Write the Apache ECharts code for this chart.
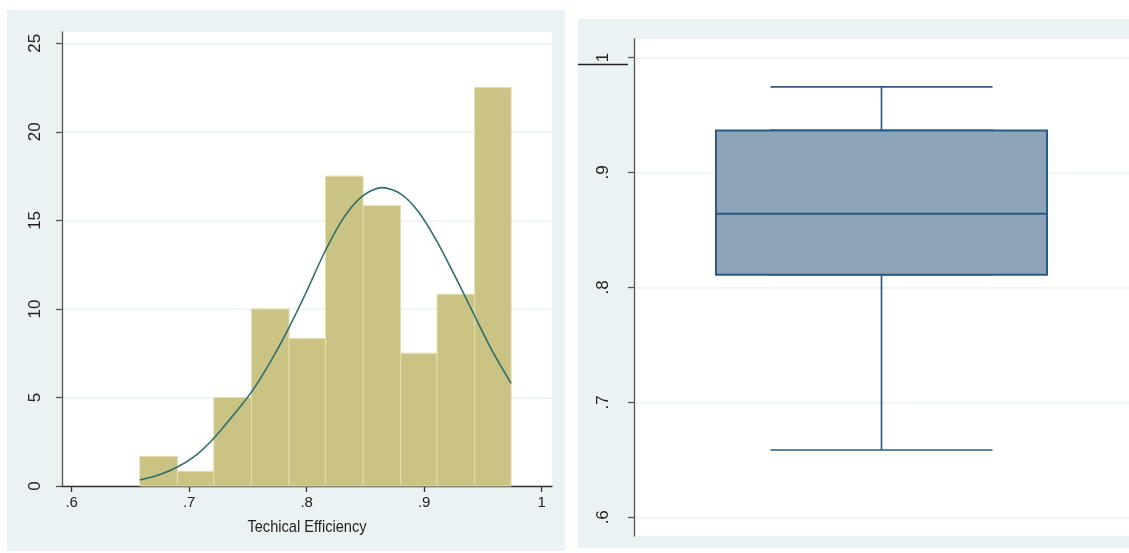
<!DOCTYPE html>
<html>
<head>
<meta charset="utf-8">
<script src="https://cdn.jsdelivr.net/npm/echarts@6/dist/echarts.min.js"></script>
<style>
html,body{margin:0;padding:0;background:#fff;}
#c{width:1129px;height:553px;}
</style>
</head>
<body>
<div id="c"></div>
<script>
// ---- data ----
const histBinEdges = [0.658, 0.690, 0.721, 0.753, 0.785, 0.816, 0.848, 0.880, 0.911, 0.943, 0.974];
const histPercent = [1.67, 0.83, 5.0, 10.0, 8.33, 17.5, 15.83, 7.5, 10.83, 22.5];
const curveX = [0.658, 0.674, 0.690, 0.706, 0.721, 0.737, 0.753, 0.769, 0.785, 0.800, 0.816, 0.832, 0.848, 0.864, 0.880, 0.895, 0.911, 0.927, 0.943, 0.959, 0.974];
const curveY = [0.34, 0.62, 1.07, 1.75, 2.70, 3.95, 5.30, 7.00, 8.95, 11.0, 13.3, 15.2, 16.4, 16.85, 16.5, 15.5, 13.8, 11.75, 9.6, 7.5, 5.8];
const histXTicks = [0.6, 0.7, 0.8, 0.9, 1];
const histYTicks = [0, 5, 10, 15, 20, 25];
const histXTitle = 'Techical Efficiency';
const boxCategory = ['TE'];
const boxStats = [0.6585, 0.811, 0.864, 0.9366, 0.9745]; // min, q1, median, q3, max
const boxYTicks = [0.6, 0.7, 0.8, 0.9, 1];

const fmt = v => {
  if (v === 0) return '0';
  return String(+(+v).toFixed(3)).replace(/^0\./, '.');
};

const binData = histPercent.map((h, i) => [histBinEdges[i], histBinEdges[i + 1], h]);
const curveData = curveX.map((x, i) => [x, curveY[i]]);

const axisGray = '#555';
const gridColor = '#EAF2F3';
const bgColor = '#EAF2F3';
const font = 'Liberation Sans, Arial, sans-serif';

const chart = echarts.init(document.getElementById('c'), null, {renderer: 'canvas'});
chart.setOption({
  animation: false,
  backgroundColor: '#fff',
  graphic: [
    {type: 'rect', z: -100, silent: true, shape: {x: 7, y: 10, width: 558, height: 541}, style: {fill: bgColor}},
    {type: 'rect', z: -100, silent: true, shape: {x: 578, y: 19, width: 551, height: 529}, style: {fill: bgColor}},
    {type: 'line', z: 100, silent: true, shape: {x1: 578, y1: 64.5, x2: 628, y2: 64.5}, style: {stroke: '#222', lineWidth: 1.3}},
    {type: 'text', z: 100, silent: true, x: 307, y: 527.5, scaleX: 0.86, scaleY: 1,
     style: {text: histXTitle, font: '17px Liberation Sans, Arial, sans-serif', fill: '#222', align: 'center', verticalAlign: 'middle'}}
  ],
  grid: [
    {left: 62, top: 32, width: 490, height: 454, show: true, backgroundColor: '#fff', borderWidth: 0, containLabel: false},
    {left: 634, top: 39, width: 495, height: 497, show: true, backgroundColor: '#fff', borderWidth: 0, containLabel: false}
  ],
  xAxis: [
    {
      type: 'value', gridIndex: 0, min: 0.5918, max: 1.0088,
      axisLine: {show: true, onZero: false, lineStyle: {color: '#333', width: 1.3}},
      axisTick: {show: true, length: 6, customValues: histXTicks, lineStyle: {color: '#333', width: 1.3}},
      axisLabel: {customValues: histXTicks, formatter: fmt, margin: 9, fontFamily: font, fontSize: 15, color: '#222'},
      splitLine: {show: false}
    },
    {type: 'category', gridIndex: 1, data: boxCategory, show: false},
    {type: 'category', gridIndex: 1, data: boxCategory, show: false}
  ],
  yAxis: [
    {
      type: 'value', gridIndex: 0, min: 0, max: 25.64,
      axisLine: {show: true, onZero: false, lineStyle: {color: axisGray, width: 1.3}},
      axisTick: {show: true, length: 6, customValues: histYTicks, lineStyle: {color: axisGray, width: 1.3}},
      axisLabel: {customValues: histYTicks, formatter: fmt, rotate: 90, margin: 18, fontFamily: font, fontSize: 17, color: '#222'},
      splitLine: {show: true, lineStyle: {color: gridColor, width: 1.5}}
    },
    {
      type: 'value', gridIndex: 1, min: 0.5837, max: 1.0161,
      axisLine: {show: true, onZero: false, lineStyle: {color: axisGray, width: 1.3}},
      axisTick: {show: true, length: 6, customValues: boxYTicks, lineStyle: {color: axisGray, width: 1.3}},
      axisLabel: {customValues: boxYTicks, formatter: fmt, rotate: 90, margin: 22, fontFamily: font, fontSize: 17, color: '#222'},
      splitLine: {show: true, lineStyle: {color: gridColor, width: 1.5}}
    }
  ],
  series: [
    {
      type: 'custom', xAxisIndex: 0, yAxisIndex: 0, z: 2,
      encode: {x: [0, 1], y: 2},
      data: binData,
      renderItem: function (params, api) {
        const p0 = api.coord([api.value(0), api.value(2)]);
        const p1 = api.coord([api.value(1), 0]);
        return {
          type: 'rect',
          shape: {x: p0[0], y: p0[1], width: p1[0] - p0[0], height: p1[1] - p0[1]},
          style: {fill: '#CBC383', stroke: '#E3DDB0', lineWidth: 1}
        };
      },
      silent: true
    },
    {
      type: 'line', xAxisIndex: 0, yAxisIndex: 0, z: 3,
      data: curveData, smooth: 0.3, symbol: 'none', silent: true,
      lineStyle: {color: '#2C6F6C', width: 1.6}
    },
    {
      type: 'boxplot', xAxisIndex: 2, yAxisIndex: 1, z: 2, silent: true,
      boxWidth: [222, 222],
      data: [boxStats],
      itemStyle: {color: '#8EA4B9', borderColor: '#2B5A84', borderWidth: 1.7},
      emphasis: {disabled: true}
    },
    {
      type: 'boxplot', xAxisIndex: 1, yAxisIndex: 1, z: 3, silent: true,
      boxWidth: [331, 331],
      data: [[boxStats[1], boxStats[1], boxStats[2], boxStats[3], boxStats[3]]],
      itemStyle: {color: '#8EA4B9', borderColor: '#2B5A84', borderWidth: 2},
      emphasis: {disabled: true}
    }
  ]
});
</script>
</body>
</html>
